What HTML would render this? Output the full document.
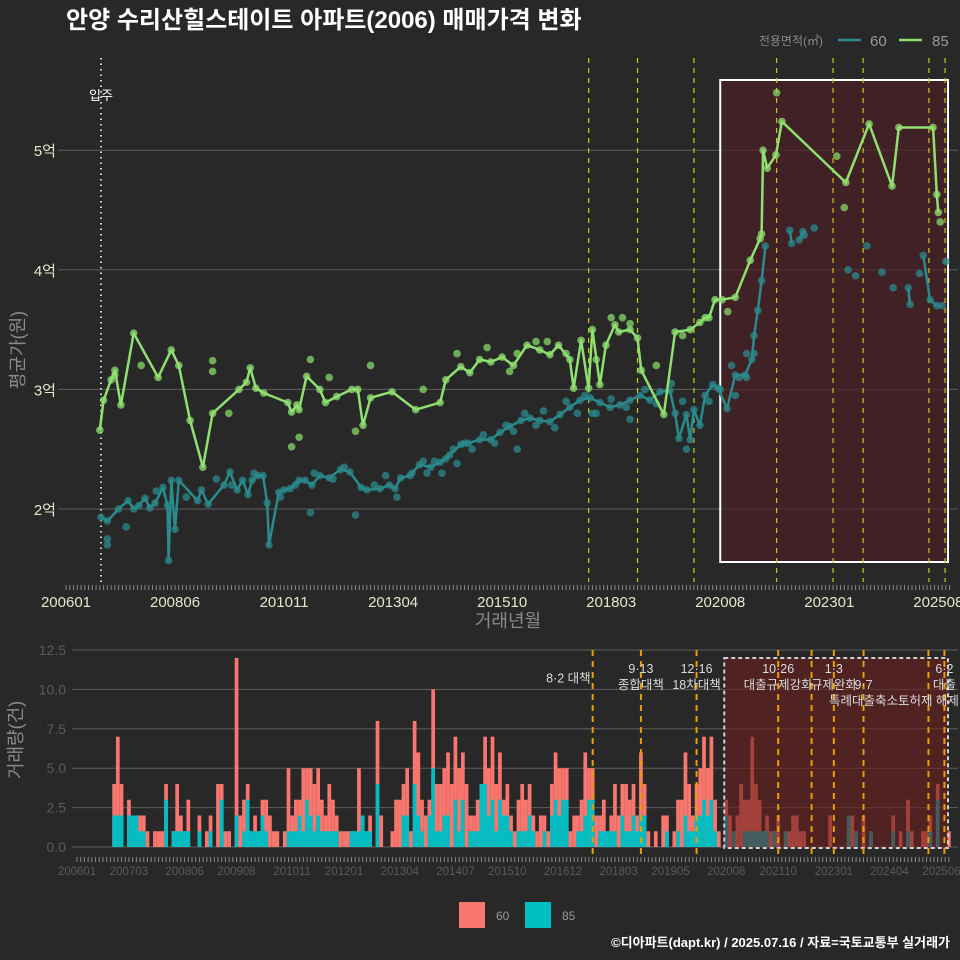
<!DOCTYPE html>
<html><head><meta charset="utf-8">
<style>
html,body{margin:0;padding:0;background:#282828;}
svg{display:block;font-family:"Liberation Sans","Noto Sans CJK KR",sans-serif;}
</style></head>
<body>
<svg id="chart" width="960" height="960" viewBox="0 0 960 960" xmlns="http://www.w3.org/2000/svg">
<rect x="0" y="0" width="960" height="960" fill="#282828"/>
<text x="66" y="28" font-size="24" font-weight="bold" fill="#ffffff">안양 수리산힐스테이트 아파트(2006) 매매가격 변화</text>
<g font-size="14">
<text x="823" y="45" text-anchor="end" fill="#8a8a8a" font-size="12">전용면적(㎡)</text>
<line x1="838" y1="40" x2="861" y2="40" stroke="#2a8a8c" stroke-width="2.5"/>
<text x="870" y="46" fill="#9a9a9a" font-size="15">60</text>
<line x1="899" y1="40" x2="922" y2="40" stroke="#8fe070" stroke-width="2.5"/>
<text x="932" y="46" fill="#9a9a9a" font-size="15">85</text>
</g>
<g id="topPanel"></g>
<g id="botPanel"></g>
<g>
<rect x="459" y="902" width="26" height="26" fill="#F8766D"/>
<text x="496" y="920" fill="#9a9a9a" font-size="12">60</text>
<rect x="525" y="902" width="26" height="26" fill="#00BFC4"/>
<text x="562" y="920" fill="#9a9a9a" font-size="12">85</text>
</g>
<text x="950" y="947" text-anchor="end" font-size="13" font-weight="bold" fill="#ffffff">©디아파트(dapt.kr) / 2025.07.16 / 자료=국토교통부 실거래가</text>
</svg>
<script>
const m85 = [9,10,12,13,14.6,18,24.5,28,30,33,36.4,39,46,48,49,50.5,52.6,59,60,61.4,62,64,67.5,69,72,76,77.6,79,81,86.7,93,99.5,101,105,107.4,110,113,116,119,122.6,126,128.7,131,134,135,137,139,140,142,143.6,146,147,150,152,153,159,162,166,168.6,170,171,172.6,174.5,178,182,184.6,185,185.4,186.5,188.8,190.4,207.4,213.6,219.7,221.5,230.6,231.6,232];
const p85 = [2.66,2.91,3.08,3.16,2.87,3.47,3.1,3.33,3.2,2.74,2.35,2.8,3.0,3.06,3.18,3.01,2.97,2.89,2.81,2.87,2.83,3.11,3.0,2.89,2.94,3.0,3.0,2.7,2.93,2.98,2.83,2.89,3.08,3.19,3.14,3.25,3.23,3.27,3.2,3.37,3.33,3.29,3.37,3.25,3.01,3.41,3.01,3.5,3.04,3.37,3.54,3.48,3.5,3.43,3.16,2.79,3.48,3.5,3.56,3.6,3.6,3.75,3.75,3.77,4.08,4.26,4.3,5.0,4.85,4.96,5.24,4.73,5.22,4.7,5.19,5.19,4.63,4.48];
const m60 = [9.3,11,14,16.5,18,19.4,21,22.3,23.7,25.8,27,27.3,28,29,30,35,36,37.8,42,43.6,45.5,47,48.4,49.5,51,52.4,53.5,54,56.6,58,59.6,62,63.6,65.4,67.5,70,73,75.5,78.5,80,83.5,86,87.5,89,91.5,94,97,99.5,102,105,107,110,113,115.4,118,121,123.4,126,128.7,131.4,134,136.7,139.4,142,144.7,147.3,150,152.7,155.3,158,160.6,162,163,165,166,167,168.6,170,172,173.4,175.8,178,180.6,182.4,183,184,185,186,null,192.5,193,null,195,196,196.3,null,224,224.5,null,228,229.8,231.6];
const p60 = [1.93,1.9,2.0,2.07,2.0,2.03,2.09,2.01,2.05,2.18,2.03,1.57,2.24,1.83,2.24,2.07,2.16,2.04,2.2,2.31,2.16,2.24,2.12,2.24,2.28,2.28,2.05,1.7,2.14,2.16,2.17,2.24,2.24,2.2,2.28,2.26,2.33,2.31,2.18,2.16,2.17,2.2,2.17,2.26,2.28,2.37,2.35,2.39,2.45,2.54,2.55,2.58,2.58,2.64,2.69,2.74,2.76,2.74,2.73,2.79,2.85,2.91,2.93,2.89,2.85,2.87,2.91,2.95,2.91,2.98,2.99,2.8,2.59,2.79,2.58,2.83,2.7,2.95,3.04,3.01,2.84,3.12,3.12,3.25,3.45,3.66,3.91,4.2,null,4.33,4.22,null,4.25,4.32,4.29,null,3.85,3.71,null,4.12,3.75,3.7];
const xs85 = [39,39,43.3,60,62,65,81,77,13,20,120,128,145,150,189,205,207,232.5,70,95,104,112,118,125,133,141,148,157,164,176];
const ys85 = [3.24,3.15,2.8,2.52,2.6,3.25,3.2,2.65,3.12,3.2,3.3,3.4,3.6,3.55,5.48,4.95,4.52,4.4,3.1,3.0,3.3,3.35,3.15,3.4,3.3,3.25,3.6,3.2,3.45,3.65];
const xs60 = [11,11,16,65,77,100,120,140,150,165,178,181,183,199,208,210,213,217,220,227,233,234,24,32,40,44,50,57,61,66,71,74,82,85,88,92,95,96,98,101,103,104,106,108,111,114,117,119,122,125,127,130,133,136,138,141,145,149,154,157,161,164,171,174,177,179,181];
const ys60 = [1.75,1.7,1.85,1.97,1.95,2.3,2.5,2.8,2.75,2.5,2.95,3.1,3.3,4.35,4.0,3.95,4.2,3.98,3.85,3.97,3.7,4.07,2.15,2.1,2.25,2.2,2.3,2.1,2.2,2.3,2.25,2.35,2.2,2.28,2.1,2.3,2.4,2.3,2.4,2.42,2.5,2.38,2.55,2.5,2.62,2.55,2.7,2.65,2.8,2.7,2.82,2.68,2.9,2.8,2.95,2.8,2.92,2.85,3.0,2.88,3.05,2.9,2.9,3.0,3.2,3.1,3.3];
const topTicks = [0,29,58,87,116,145,174,203,232];
const topTickLabels = ["200601","200806","201011","201304","201510","201803","202008","202301","202508"];
const priceTicks = [2,3,4,5];
const priceTickLabels = ["2억","3억","4억","5억"];
const policyMonths = [139,152,167,189,198,204,212,229.5,233.8];
const policyTop = [139,152,167,189,204,212,229.5,233.8];
const volMonths = [10,11,12,14,15,16,17,18,19,21,22,23,24,26,27,28,29,30,33,35,36,38,39,40,41,43,44,45,46,47,48,49,50,51,52,53,54,56,57,58,59,60,61,62,63,64,65,66,67,68,69,70,71,72,73,74,75,76,77,78,79,81,82,85,86,87,88,89,90,91,92,93,94,95,96,97,98,99,100,101,102,103,104,105,106,107,108,109,110,111,112,113,114,115,116,117,118,119,120,121,122,123,124,125,126,127,128,129,130,131,132,133,134,135,136,137,138,139,140,141,142,143,144,145,146,147,148,149,150,151,152,153,154,156,158,159,161,162,163,164,165,166,167,168,169,170,171,172,173,175,176,177,178,179,180,181,182,183,184,185,186,187,188,189,191,192,193,194,195,196,203,208,209,210,212,214,220,222,224,225,228,229,230,232,235];
const volTotal = [4,7,4,3,2,2,2,2,1,1,1,1,4,1,4,2,1,3,2,1,2,4,4,1,1,12,2,3,4,1,2,1,3,3,2,1,1,1,5,2,3,3,5,5,5,4,5,3,2,4,3,2,1,1,1,1,1,5,2,1,2,8,2,1,3,3,4,5,1,8,6,3,2,3,10,4,4,5,6,4,7,5,6,4,2,2,3,4,7,5,7,4,6,3,4,2,1,3,4,3,4,2,1,2,2,1,4,6,5,5,5,1,2,2,3,6,5,5,2,2,3,1,2,4,2,4,4,3,4,2,6,4,1,1,2,2,1,3,3,6,4,2,4,5,7,5,7,3,1,3,2,1,2,4,3,3,7,4,3,1,2,1,1,2,1,1,2,2,1,1,2,1,2,1,2,1,2,1,3,1,1,1,2,4,1];
const vol85 = [2,2,2,2,2,2,1,1,0,0,0,0,3,1,1,1,1,1,1,0,1,0,3,0,0,2,0,1,3,1,1,1,2,1,0,0,0,0,1,1,1,2,1,3,2,1,2,1,1,1,1,1,0,0,0,1,1,1,2,1,1,4,0,0,0,0,2,2,0,4,2,1,0,2,5,1,1,2,2,0,3,1,3,0,1,1,1,4,4,2,3,1,3,2,2,1,0,1,1,1,2,1,0,0,1,0,2,3,2,3,3,0,0,1,1,2,3,3,0,1,1,1,1,1,0,2,1,1,2,1,2,2,0,0,0,1,0,1,0,2,1,1,2,2,3,2,3,1,0,2,0,1,0,0,1,1,1,1,1,1,1,0,1,0,1,0,0,0,0,0,0,2,0,1,0,1,1,0,1,0,0,0,1,3,0];
const volTicks = [0,2.5,5,7.5,10,12.5];
const volTickLabels = ["0.0","2.5","5.0","7.5","10.0","12.5"];
const botTicks = [0,14,29,43,58,72,87,102,116,131,146,160,175,189,204,219,233];
const botTickLabels = ["200601","200703","200806","200908","201011","201201","201304","201407","201510","201612","201803","201905","202008","202110","202301","202404","202506"];
const annMonths = [139,152,152,167,167,189,189,204,204,212,212,229.5,233.8,233.8];
const annRows = [0.6,0,1,0,1,0,1,0,1,1,2,2,0,1];
const annText = ["8·2 대책","9·13","종합대책","12·16","18차대책","10·26","대출규제강화","1·3","규제완화","9·7","특례대출축소","토허제 해제","6·2","대출"];

const NS = "http://www.w3.org/2000/svg";
function mk(parent, tag, attrs, text){const e=document.createElementNS(NS,tag);for(const k in attrs)e.setAttribute(k,attrs[k]);if(text!==undefined)e.textContent=text;parent.appendChild(e);return e;}
const xT = m => 66 + 3.76*m;
const yT = v => 509 - (v-2)*119.6;
const xB = m => 77 + 3.71*m;
const yB = v => 847 - v*15.76;

const topG = document.getElementById('topPanel');
priceTicks.forEach((v,i)=>{
  const g=mk(topG,'line',{x1:58,x2:958,y1:yT(v),y2:yT(v),stroke:'#5e5e5e','stroke-width':1});
  
  
  const t=mk(topG,'text',{x:56,y:yT(v)+6,'text-anchor':'end','font-size':15,fill:'#e6e6c8'},priceTickLabels[i]);
  
  
});
const box=mk(topG,'rect',{x:xT(174),y:80,width:948-xT(174),height:482,fill:'#4a1e24','fill-opacity':0.7,stroke:'#ffffff','stroke-width':2});


const mv=mk(topG,'line',{x1:101,x2:101,y1:58,y2:582,stroke:'#d0d0d0','stroke-width':2,'stroke-dasharray':'1.5 4'});


const mvt=mk(topG,'text',{x:101,y:100,'text-anchor':'middle','font-size':13,fill:'#ffffff'},'입주');


policyTop.forEach(m=>{
  const l=mk(topG,'line',{x1:xT(m),x2:xT(m),y1:58,y2:582,stroke:'#c8c81e','stroke-width':1.2,'stroke-dasharray':'5 5'});
  
  
});
function drawSeries(ms,ps,color,name){
  let d='',pen=false;
  ms.forEach((m,i)=>{ if(m===null){pen=false;return;} d+=(pen?'L':'M')+xT(m).toFixed(1)+' '+yT(ps[i]).toFixed(1); pen=true;});
  const p=mk(topG,'path',{d:d,fill:'none',stroke:color,'stroke-width':2.5,'stroke-linejoin':'round'});
  
  
  ms.forEach((m,i)=>{ if(m===null)return;
    const c=mk(topG,'circle',{cx:xT(m),cy:yT(ps[i]),r:3.8,fill:color,'fill-opacity':0.75});
    
    
  });
}
function drawScatter(ms,ps,color,name){
  ms.forEach((m,i)=>{
    const c=mk(topG,'circle',{cx:xT(m),cy:yT(ps[i]),r:3.8,fill:color,'fill-opacity':0.75});
    
    
  });
}
drawScatter(xs60,ys60,'#2a8a8c','area60');
drawSeries(m60,p60,'#2a8a8c','area60');
drawScatter(xs85,ys85,'#86d868','area85');
drawSeries(m85,p85,'#8fe070','area85');
for(let m=0;m<=235;m++){ mk(topG,'line',{x1:xT(m),x2:xT(m),y1:585,y2:590,stroke:'#8a8a8a','stroke-width':1}); }
topTicks.forEach((m,i)=>{
  const t=mk(topG,'text',{x:xT(m),y:607,'text-anchor':'middle','font-size':15,fill:'#e6e6c8'},topTickLabels[i]);
  
  
});
const xt=mk(topG,'text',{x:508,y:627,'text-anchor':'middle','font-size':18,fill:'#8a8a8a'},'거래년월');


const yt=mk(topG,'text',{x:0,y:0,'text-anchor':'middle','font-size':18,fill:'#8a8a8a',transform:'translate(24,350) rotate(-90)'},'평균가(원)');



const botG = document.getElementById('botPanel');
volTicks.forEach((v,i)=>{
  const g=mk(botG,'line',{x1:72,x2:958,y1:yB(v),y2:yB(v),stroke:'#5e5e5e','stroke-width':1});
  
  
  const t=mk(botG,'text',{x:66,y:yB(v)+5,'text-anchor':'end','font-size':14,fill:'#5a5a5a'},volTickLabels[i]);
  
  
});
volMonths.forEach((m,i)=>{
  const x=xB(m)-1.85;
  const r1=mk(botG,'rect',{x:x,y:yB(volTotal[i]),width:3.71,height:yB(0)-yB(volTotal[i]),fill:'#F8766D'});
  
  
  if(vol85[i]>0){
    const r2=mk(botG,'rect',{x:x,y:yB(vol85[i]),width:3.71,height:yB(0)-yB(vol85[i]),fill:'#00BFC4'});
    
    
  }
});
const bb=mk(botG,'rect',{x:xB(175)-2,y:658,width:948-xB(175)+2,height:190,fill:'#6a1e1c','fill-opacity':0.6,stroke:'#cfcfcf','stroke-width':2,'stroke-dasharray':'4 3'});


policyMonths.forEach(m=>{
  const l=mk(botG,'line',{x1:xB(m),x2:xB(m),y1:650,y2:858,stroke:'#e8a000','stroke-width':2,'stroke-dasharray':'6 5'});
  
  
});
annMonths.forEach((m,i)=>{
  const t=mk(botG,'text',{x:xB(m)+(i===0?-2:0),y:673+annRows[i]*16,'text-anchor':i===0?'end':'middle','font-size':12.5,fill:'#dcdcdc'},annText[i]);
  
  
});
for(let m=0;m<=235;m++){ mk(botG,'line',{x1:xB(m),x2:xB(m),y1:857,y2:862,stroke:'#8a8a8a','stroke-width':1}); }
botTicks.forEach((m,i)=>{
  const t=mk(botG,'text',{x:xB(m),y:875,'text-anchor':'middle','font-size':11.5,fill:'#5a5a5a'},botTickLabels[i]);
  
  
});
const vt=mk(botG,'text',{x:0,y:0,'text-anchor':'middle','font-size':18,fill:'#8a8a8a',transform:'translate(22,740) rotate(-90)'},'거래량(건)');


</script>
</body></html>
